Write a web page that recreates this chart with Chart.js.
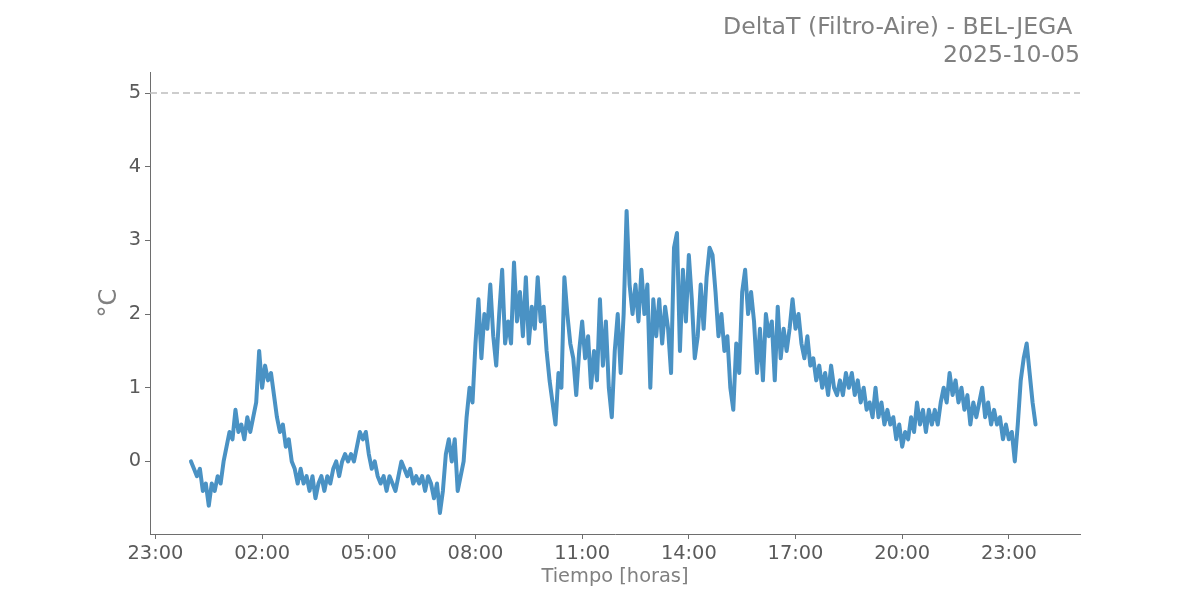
<!DOCTYPE html>
<html>
<head>
<meta charset="utf-8">
<script src="https://cdn.jsdelivr.net/npm/chart.js@4"></script>
<style>
html, body { margin: 0; padding: 0; background: #fff; }
</style>
</head>
<body>
<canvas id="deltaChart" width="1200" height="600"></canvas>
<script>
// Lecturas DeltaT (°C) cada 5 min desde 00:00 del 2025-10-05
const inicioHoras = 0;
const pasoMin = 5;
const deltaT = [
    0.0, -0.1, -0.2, -0.1, -0.4, -0.3, -0.6, -0.3, -0.4, -0.2, -0.3, 0.0,   // 00
    0.2, 0.4, 0.3, 0.7, 0.4, 0.5, 0.3, 0.6, 0.4, 0.6, 0.8, 1.5,             // 01
    1.0, 1.3, 1.1, 1.2, 0.9, 0.6, 0.4, 0.5, 0.2, 0.3, 0.0, -0.1,            // 02
    -0.3, -0.1, -0.3, -0.2, -0.4, -0.2, -0.5, -0.3, -0.2, -0.4, -0.2, -0.3, // 03
    -0.1, 0.0, -0.2, 0.0, 0.1, 0.0, 0.1, 0.0, 0.2, 0.4, 0.3, 0.4,           // 04
    0.1, -0.1, 0.0, -0.2, -0.3, -0.2, -0.4, -0.2, -0.3, -0.4, -0.2, 0.0,    // 05
    -0.1, -0.2, -0.1, -0.3, -0.2, -0.3, -0.2, -0.4, -0.2, -0.3, -0.5, -0.3, // 06
    -0.7, -0.4, 0.1, 0.3, 0.0, 0.3, -0.4, -0.2, 0.0, 0.6, 1.0, 0.8,         // 07
    1.6, 2.2, 1.4, 2.0, 1.8, 2.4, 1.7, 1.3, 2.0, 2.6, 1.6, 1.9,             // 08
    1.6, 2.7, 1.9, 2.3, 1.7, 2.5, 1.6, 2.1, 1.8, 2.5, 1.9, 2.1,             // 09
    1.5, 1.1, 0.8, 0.5, 1.2, 1.0, 2.5, 2.0, 1.6, 1.4, 0.9, 1.5,             // 10
    1.9, 1.4, 1.7, 1.0, 1.5, 1.1, 2.2, 1.3, 1.9, 1.0, 0.6, 1.5,             // 11
    2.0, 1.2, 2.0, 3.4, 2.4, 2.0, 2.4, 1.9, 2.6, 2.0, 2.4, 1.0,             // 12
    2.2, 1.7, 2.2, 1.6, 2.1, 1.8, 1.2, 2.9, 3.1, 1.5, 2.6, 1.9,             // 13
    2.8, 2.2, 1.4, 1.7, 2.4, 1.8, 2.5, 2.9, 2.8, 2.3, 1.7, 2.0,             // 14
    1.5, 1.7, 1.0, 0.7, 1.6, 1.2, 2.3, 2.6, 2.0, 2.3, 1.9, 1.2,             // 15
    1.8, 1.1, 2.0, 1.7, 1.9, 1.1, 2.1, 1.4, 1.8, 1.5, 1.8, 2.2,             // 16
    1.8, 2.0, 1.6, 1.4, 1.7, 1.3, 1.4, 1.1, 1.3, 1.0, 1.2, 0.9,             // 17
    1.3, 1.0, 0.9, 1.1, 0.9, 1.2, 1.0, 1.2, 0.9, 1.1, 0.8, 1.0,             // 18
    0.7, 0.8, 0.6, 1.0, 0.6, 0.8, 0.5, 0.7, 0.5, 0.6, 0.3, 0.5,             // 19
    0.2, 0.4, 0.3, 0.6, 0.4, 0.8, 0.5, 0.7, 0.4, 0.7, 0.5, 0.7,             // 20
    0.5, 0.8, 1.0, 0.8, 1.2, 0.9, 1.1, 0.8, 1.0, 0.7, 0.9, 0.5,             // 21
    0.8, 0.6, 0.8, 1.0, 0.6, 0.8, 0.5, 0.7, 0.5, 0.6, 0.3, 0.5,             // 22
    0.3, 0.4, 0.0, 0.5, 1.1, 1.4, 1.6, 1.2, 0.8, 0.5                        // 23
];
const limite = 5;

// ejes
const xTickHoras = [-1, 2, 5, 8, 11, 14, 17, 20, 23];
const xTickLabels = ['23:00', '02:00', '05:00', '08:00', '11:00', '14:00', '17:00', '20:00', '23:00'];
const yTicks = [0, 1, 2, 3, 4, 5];
const titulo = ['DeltaT (Filtro-Aire) - BEL-JEGA ', '2025-10-05'];

const xMin = -1.153, xMax = 25.0;
const yMin = -0.985, yMax = 5.285;

const puntos = deltaT.map((v, i) => ({ x: inicioHoras + i * pasoMin / 60, y: v }));

// titulo y etiquetas de ejes a mano
const textos = {
    id: 'textos',
    afterDraw(chart) {
        const ctx = chart.ctx;
        const area = chart.chartArea;
        ctx.save();
        ctx.fillStyle = '#808080';
        ctx.textBaseline = 'middle';
        ctx.textAlign = 'right';
        ctx.font = '23.6px "DejaVu Sans"';
        ctx.fillText(titulo[0], area.right, 28);
        ctx.fillText(titulo[1], area.right, 56);
        ctx.textAlign = 'center';
        ctx.font = '19.4px "DejaVu Sans"';
        ctx.fillText('Tiempo [horas]', (area.left + area.right) / 2, 577);
        ctx.translate(110, (area.top + area.bottom) / 2);
        ctx.rotate(-Math.PI / 2);
        ctx.font = '24px "DejaVu Sans"';
        ctx.fillText('°C', 0, 0);
        ctx.restore();
    }
};

const ctx = document.getElementById('deltaChart').getContext('2d');
new Chart(ctx, {
    type: 'line',
    data: {
        datasets: [{
            data: puntos,
            borderColor: '#4a92c4',
            borderWidth: 4,
            pointRadius: 0,
            tension: 0,
            borderJoinStyle: 'round',
            borderCapStyle: 'round'
        }, {
            data: [{ x: xMin, y: limite }, { x: xMax, y: limite }],
            borderColor: '#bdbdbd',
            borderWidth: 1.5,
            borderDash: [7, 4],
            pointRadius: 0
        }]
    },
    options: {
        responsive: false,
        animation: false,
        layout: { padding: { top: 72, right: 120, left: 0, bottom: 0 } },
        plugins: {
            legend: { display: false },
            title: { display: false },
            tooltip: { enabled: false }
        },
        scales: {
            x: {
                type: 'linear',
                min: xMin,
                max: xMax,
                afterBuildTicks: s => { s.ticks = xTickHoras.map(v => ({ value: v })); },
                afterFit: s => { s.height = 66; },
                ticks: {
                    autoSkip: false,
                    maxRotation: 0,
                    padding: 3,
                    color: '#5a5a5a',
                    font: { family: 'DejaVu Sans', size: 19.4 },
                    callback: v => xTickLabels[xTickHoras.indexOf(v)]
                },
                grid: { drawOnChartArea: false, drawTicks: true, tickLength: 5, color: '#6e6e6e' },
                border: { display: true, color: '#6e6e6e', width: 1 }
            },
            y: {
                min: yMin,
                max: yMax,
                afterBuildTicks: s => { s.ticks = yTicks.map(v => ({ value: v })); },
                afterFit: s => { s.width = 150; },
                ticks: {
                    padding: 4,
                    color: '#5a5a5a',
                    font: { family: 'DejaVu Sans', size: 19.4 }
                },
                grid: { drawOnChartArea: false, drawTicks: true, tickLength: 5, color: '#6e6e6e' },
                border: { display: true, color: '#6e6e6e', width: 1 }
            }
        }
    },
    plugins: [textos]
});
</script>
</body>
</html>
